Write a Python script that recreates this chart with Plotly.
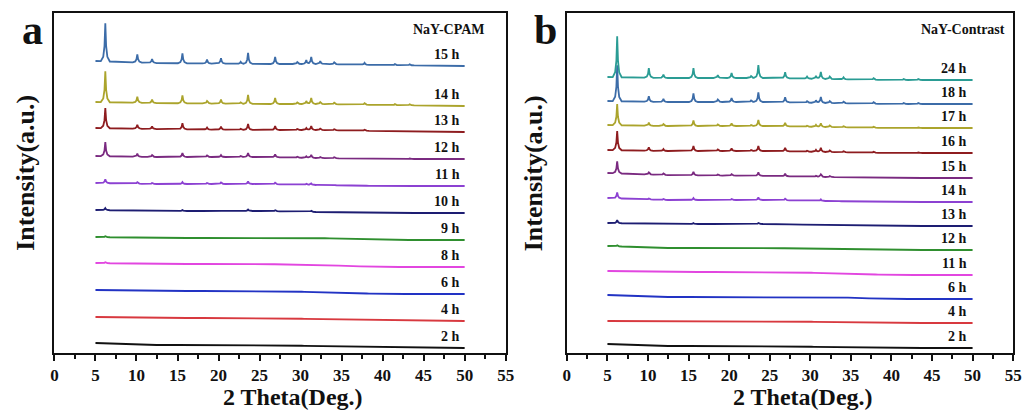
import numpy as np
import plotly.graph_objects as go

# ---------------- data ----------------
PEAK_POS = [6.2, 10.1, 11.9, 15.6, 18.6, 20.3, 22.7, 23.6, 26.9, 29.6, 30.7, 31.3, 32.4, 34.1, 37.8, 41.5, 43.3]
BASE_X = [5, 12, 25, 32, 40, 50]

# Panel a: NaY-CPAM (bottom -> top)
A_LABELS = ["2 h", "4 h", "6 h", "8 h", "9 h", "10 h", "11 h", "12 h", "13 h", "14 h", "15 h"]
A_BASE = [
    [10, 8, 8, 7, 6, 5],
    [36, 35, 35, 34, 33, 32],
    [63, 62, 62, 61, 59, 59],
    [90, 89, 89, 88, 86, 86],
    [116, 115, 115, 115, 113, 113],
    [143, 142, 142, 141, 140, 140],
    [170, 169, 169, 168, 167, 167],
    [197, 196, 196, 195, 194, 194],
    [225, 224, 223, 223, 222, 221],
    [251, 250, 249, 249, 248, 247],
    [292, 290, 289, 289, 288, 287],
]
A_PEAKS = [
    [0] * 17,
    [0] * 17,
    [0.5] + [0] * 16,
    [1, 0, 0, 0, 0, 0, 0, 0.5, 0, 0, 0, 0, 0, 0, 0, 0, 0],
    [1, 0, 0, 0, 0, 0, 0, 0.5, 0, 0, 0, 0, 0, 0, 0, 0, 0],
    [2, 0.5, 0.5, 1, 0.5, 0.5, 0, 1.5, 1, 0, 0.5, 1, 0, 0, 0, 0, 0],
    [4, 1.5, 1, 2, 1, 1.5, 0.5, 2.5, 1.5, 0.5, 1, 1.5, 0.5, 0.5, 0, 0, 0],
    [14, 3, 2, 4, 1.5, 2, 1, 4, 3, 1, 1.5, 3, 1, 1, 0.5, 0.5, 0.5],
    [20, 4, 2.5, 6, 2, 3, 1, 6, 4, 1, 2, 4, 1.5, 1, 1, 0.5, 0.5],
    [31, 6, 3.5, 8, 2.5, 4, 1.5, 9, 6, 1.5, 3, 6, 2, 1.5, 1.5, 1, 1],
    [38, 8, 4, 10, 4, 5.5, 2, 11, 7, 2, 4, 7, 3, 2, 2, 1, 1],
]

# Panel b: NaY-Contrast (bottom -> top)
B_LABELS = ["2 h", "4 h", "6 h", "11 h", "12 h", "13 h", "14 h", "15 h", "16 h", "17 h", "18 h", "24 h"]
B_BASE = [
    [9, 7, 7, 6, 5, 5],
    [32, 32, 32, 31, 30, 30],
    [58, 56, 56, 56, 54, 54],
    [82, 81, 81, 80, 78, 78],
    [107, 105, 105, 104, 103, 103],
    [130, 129, 129, 128, 127, 127],
    [155, 153, 153, 152, 151, 151],
    [180, 178, 177, 176, 175, 175],
    [203, 202, 202, 201, 200, 200],
    [228, 227, 227, 226, 225, 225],
    [252, 251, 251, 250, 249, 249],
    [276, 275, 275, 274, 273, 273],
]
B_PEAKS = [
    [0] * 17,
    [0] * 17,
    [0] * 17,
    [0.5] + [0] * 16,
    [1, 0, 0, 0, 0, 0, 0, 0.5, 0, 0, 0, 0, 0, 0, 0, 0, 0],
    [3, 0.5, 0, 1, 0, 0.5, 0, 1, 0.5, 0, 0, 0.5, 0, 0, 0, 0, 0],
    [6, 1, 1, 2, 0.5, 1, 0.5, 2.5, 1.5, 0.5, 0.5, 1.5, 0.5, 0, 0, 0, 0],
    [12, 2, 1.5, 3.5, 1, 1.5, 0.5, 3.5, 2.5, 0.5, 1, 2.5, 1, 0.5, 0.5, 0, 0],
    [19, 3.5, 2, 5, 1.5, 2.5, 1, 5, 3.5, 1, 2, 4, 1.5, 1, 1, 0.5, 0.5],
    [21, 3, 2, 5.5, 1.5, 2.5, 1, 6, 3.5, 1, 2, 3.5, 1.5, 1, 1, 0.5, 0.5],
    [36, 5.5, 3, 8.5, 2.5, 4, 1.5, 9.5, 5, 1.5, 2.5, 6, 2, 1.5, 1.5, 1, 1],
    [41, 9.5, 3.5, 10, 3, 5, 2, 13, 6, 2, 3, 7, 2.5, 2, 1.5, 1, 1],
]

X_TICKS = [0, 5, 10, 15, 20, 25, 30, 35, 40, 45, 50, 55]

# ---------------- styles ----------------
A_COLORS = ["#111111", "#d8393f", "#2233c4", "#e246e0", "#2f8f2f", "#1d1d72",
            "#8c41d2", "#7a2a80", "#8e1c1f", "#aba42c", "#3c6ca8"]
B_COLORS = ["#111111", "#d8393f", "#2233c4", "#e246e0", "#2f8f2f", "#1d1d72",
            "#8c41d2", "#7a2a80", "#8e1c1f", "#aba42c", "#3c6ca8", "#2a9c94"]

OFF = 8  # default page body margin
W, H = 1033 - OFF, 410 - OFF
FONT = "Liberation Serif, Times New Roman, serif"

# peak profile (offset in degrees, fraction of height)
PROFILE_DX = [-0.55, -0.25, -0.1, 0.0, 0.1, 0.25, 0.55]
PROFILE_F = [0.0, 0.12, 0.4, 1.0, 0.4, 0.12, 0.0]


def pattern(base, peaks):
    xs = list(BASE_X)
    for p in PEAK_POS:
        xs += [p + d for d in PROFILE_DX]
    xs = np.array(sorted(set(round(v, 4) for v in xs if 5 <= v <= 50)))
    y = np.interp(xs, BASE_X, base)
    for p, h in zip(PEAK_POS, peaks):
        y = y + h * np.interp(xs, [p + d for d in PROFILE_DX], PROFILE_F, left=0, right=0)
    return xs, y


def fx(sx):
    return (sx - OFF) / W


def fy(sy):
    return 1 - (sy - OFF) / H


fig = go.Figure()
for lbls, bases, pks, cols, ax in [(A_LABELS, A_BASE, A_PEAKS, A_COLORS, ""),
                                   (B_LABELS, B_BASE, B_PEAKS, B_COLORS, "2")]:
    for lbl, base, pk, c in zip(lbls, bases, pks, cols):
        x, y = pattern(base, pk)
        fig.add_trace(go.Scatter(x=x, y=y, mode="lines", name=lbl,
                                 line=dict(color=c, width=1.8),
                                 xaxis="x" + ax, yaxis="y" + ax, showlegend=False,
                                 hoverinfo="skip"))
        fig.add_annotation(x=49.7 if ax == "" else 49.5, y=base[-1] + 12,
                           xref="x" + ax, yref="y" + ax, text=lbl, showarrow=False,
                           xanchor="right", yanchor="middle",
                           font=dict(family=FONT, size=14, color="#111", weight="bold"))

xaxis_common = dict(range=[0, 55], tickvals=X_TICKS, ticks="outside", ticklen=6, tickwidth=2,
                    tickcolor="#111", showline=True, linewidth=2, linecolor="#111", mirror=True,
                    showgrid=False, zeroline=False,
                    minor=dict(dtick=2.5, tick0=0, ticks="outside", ticklen=4, tickwidth=2, tickcolor="#111"),
                    tickfont=dict(family=FONT, size=17, color="#111", weight="bold"))
yaxis_common = dict(range=[0, 340], showticklabels=False, ticks="", showline=True, linewidth=2,
                    linecolor="#111", mirror=True, showgrid=False, zeroline=False,
                    domain=[fy(353), fy(13)])

fig.update_layout(
    width=W, height=H, margin=dict(l=0, r=0, t=0, b=0),
    paper_bgcolor="white", plot_bgcolor="white",
    xaxis=dict(domain=[fx(51), fx(508)], anchor="y", **xaxis_common),
    yaxis=dict(anchor="x", **yaxis_common),
    xaxis2=dict(domain=[fx(570), fx(1022)], anchor="y2", **xaxis_common),
    yaxis2=dict(anchor="x2", **yaxis_common),
)


def px_ann(text, sx, sy, size, xanchor="center", angle=0):
    fig.add_annotation(x=fx(sx), y=fy(sy), xref="paper", yref="paper", text=text,
                       showarrow=False, xanchor=xanchor, yanchor="middle", textangle=angle,
                       font=dict(family=FONT, size=size, color="#111", weight="bold"))


px_ann("a", 29, 30, 42)
px_ann("b", 548, 30, 42)
px_ann("NaY-CPAM", 489, 29, 14, xanchor="right")
px_ann("NaY-Contrast", 1016, 30, 14, xanchor="right")
px_ann("2 Theta(Deg.)", 293, 397, 24)
px_ann("2 Theta(Deg.)", 809, 397, 24)
px_ann("Intensity(a.u.)", 22, 173, 26, angle=-90)
px_ann("Intensity(a.u.)", 537, 173, 26, angle=-90)

fig.write_html("out.html")
